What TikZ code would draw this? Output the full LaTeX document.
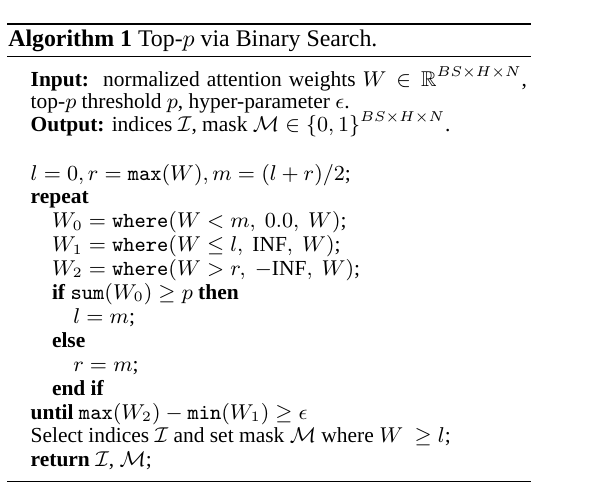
\documentclass[tikz,border=0pt]{standalone}
\usepackage{amsmath,amssymb}
\usepackage[no-math]{fontspec}
\setmainfont{Liberation Serif}
\begin{document}
\begin{tikzpicture}[x=0.4195pt,y=-0.4195pt,
  algline/.style={anchor=base west,inner sep=0pt,outer sep=0pt,font=\small},
  titleline/.style={anchor=base west,inner sep=0pt,outer sep=0pt,font=\normalsize},
  thickrule/.style={line width=0.8pt},
  thinrule/.style={line width=0.4pt}]
\useasboundingbox (0,0) rectangle (591,489);
% rules
\coordinate (tl) at (7.3,24.3); \coordinate (tr) at (531,24.3);
\coordinate (ml) at (7.3,56.7); \coordinate (mr) at (531,56.7);
\coordinate (bl) at (7.3,481.5); \coordinate (br) at (531,481.5);
\draw[thickrule] (tl) -- (tr);
\draw[thinrule] (ml) -- (mr);
\draw[thinrule] (bl) -- (br);
% title
\node[titleline] (title) at (8.3,46.7) {\textbf{Algorithm 1} Top-$p$ via Binary Search.};
% header
\node[algline] (in1) at (30.7,86) {\makebox[208.2pt][s]{\textbf{Input:}\ \ normalized attention weights $W \in \mathbb{R}^{BS\times H\times N}$,}};
\node[algline] (in2) at (30.7,108.5) {top-$p$ threshold $p$, hyper-parameter $\epsilon$.};
\node[algline] (out) at (30.7,131) {\textbf{Output:} indices $\mathcal{I}$, mask $\mathcal{M}\in\{0,1\}^{BS\times H\times N}$.};
% body
\node[algline] (l0) at (30.7,180) {$l=0, r=\mathtt{max}(W), m=(l+r)/2$;};
\node[algline] (rep) at (30.7,203.9) {\textbf{repeat}};
\node[algline] (w0) at (52,227.8) {$W_0=\mathtt{where}(W<m,\ 0.0,\ W)$;};
\node[algline] (w1) at (52,251.7) {$W_1=\mathtt{where}(W\le l,\ \text{INF},\ W)$;};
\node[algline] (w2) at (52,275.6) {$W_2=\mathtt{where}(W>r,\ -\text{INF},\ W)$;};
\node[algline] (if) at (52,299.5) {\textbf{if} $\mathtt{sum}(W_0)\ge p$ \textbf{then}};
\node[algline] (lm) at (73.3,323.4) {$l=m$;};
\node[algline] (else) at (52,347.3) {\textbf{else}};
\node[algline] (rm) at (73.3,371.2) {$r=m$;};
\node[algline] (endif) at (52,395.1) {\textbf{end if}};
\node[algline] (until) at (30.7,419) {\textbf{until} $\mathtt{max}(W_2)-\mathtt{min}(W_1)\ge\epsilon$};
\node[algline] (sel) at (30.7,442.9) {Select indices $\mathcal{I}$ and set mask $\mathcal{M}$ where $W\ \ge l$;};
\node[algline] (ret) at (30.7,466.8) {\textbf{return} $\mathcal{I}$, $\mathcal{M}$;};
\end{tikzpicture}
\end{document}
